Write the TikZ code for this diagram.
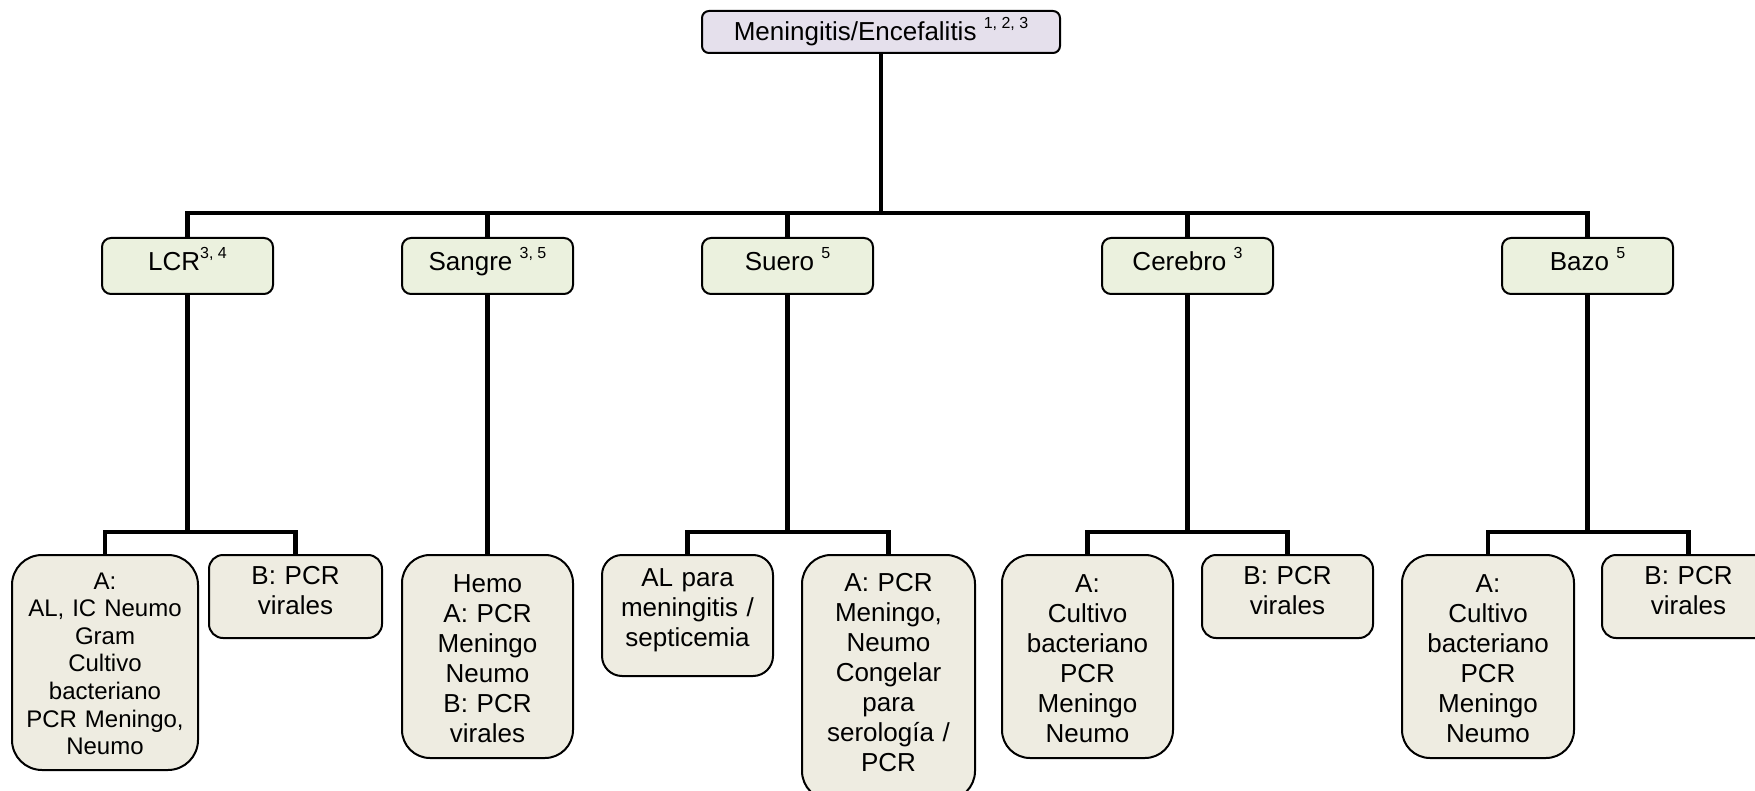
\documentclass[tikz,border=0pt]{standalone}
\usepackage{fontspec}
\setmainfont{Liberation Sans}
\definecolor{topfill}{RGB}{229,224,236}
\definecolor{midfill}{RGB}{235,241,222}
\definecolor{leaffill}{RGB}{238,236,225}
% raised, smaller reference numbers
\newcommand{\supnum}[1]{\raisebox{12pt}{\fontsize{16}{16}\selectfont #1}}
\tikzset{
  conn/.style={line width=4.2pt, draw=black},
  boxframe/.style={draw=black, line width=2pt, inner sep=0pt},
  topbox/.style={boxframe, fill=topfill, rounded corners=7pt, minimum width=358pt, minimum height=42pt},
  midbox/.style={boxframe, fill=midfill, rounded corners=9pt, minimum width=171pt, minimum height=56pt},
  leafbox/.style={boxframe, fill=leaffill},
  bigtxt/.style={inner sep=0pt, anchor=base, font=\fontsize{26}{30}\selectfont},
  leaftxt/.style={inner sep=0pt, anchor=base, text width=168pt, align=center, font=\fontsize{26}{30}\selectfont},
  smalltxt/.style={inner sep=0pt, anchor=base, text width=180pt, align=center, font=\fontsize{24}{27.6}\selectfont},
}
\begin{document}
\begin{tikzpicture}[x=1pt,y=-1pt]
\useasboundingbox (0,0) rectangle (1755,791);
\clip (0,0) rectangle (1755,791);

% root
\node[topbox] (root) at (881,32) {};
\node[bigtxt] (root-t) at (881,40.5) {Meningitis/Encefalitis \supnum{1, 2, 3}};

% sample types
\node[midbox] (lcr) at (187.5,266) {};
\node[midbox] (sangre) at (487.5,266) {};
\node[midbox] (suero) at (787.5,266) {};
\node[midbox] (cerebro) at (1187.5,266) {};
\node[midbox] (bazo) at (1587.5,266) {};
\node[bigtxt] (lcr-t) at (187.5,271) {LCR\supnum{3, 4}};
\node[bigtxt] (sangre-t) at (487.5,271) {Sangre \supnum{3, 5}};
\node[bigtxt] (suero-t) at (787.5,271) {Suero \supnum{5}};
\node[bigtxt] (cerebro-t) at (1187.5,271) {Cerebro \supnum{3}};
\node[bigtxt] (bazo-t) at (1587.5,271) {Bazo \supnum{5}};

% tests
\node[leafbox, rounded corners=30pt, minimum width=186pt, minimum height=215pt] (lcrA) at (105,662.5) {};
\node[smalltxt] (lcrA-t) at (105,589) {A:\\AL, IC Neumo\\Gram\\Cultivo\\bacteriano\\PCR Meningo,\\Neumo};
\node[leafbox, rounded corners=14pt, minimum width=173pt, minimum height=83pt] (lcrB) at (295.5,596.5) {};
\node[leaftxt] (lcrB-t) at (295.5,584) {B: PCR\\virales};

\node[leafbox, rounded corners=28pt, minimum width=171pt, minimum height=203pt] (sanA) at (487.5,656.5) {};
\node[leaftxt] (sanA-t) at (487.5,592) {Hemo\\A: PCR\\Meningo\\Neumo\\B: PCR\\virales};

\node[leafbox, rounded corners=20pt, minimum width=171pt, minimum height=121pt] (sueL) at (687.5,615.5) {};
\node[leaftxt] (sueL-t) at (687.5,586) {AL para\\meningitis /\\septicemia};
\node[leafbox, rounded corners=29pt, minimum width=173pt, minimum height=245pt] (sueA) at (888.5,677.5) {};
\node[leaftxt] (sueA-t) at (888.5,591) {A: PCR\\Meningo,\\Neumo\\Congelar\\para\\serología /\\PCR};

\node[leafbox, rounded corners=28pt, minimum width=171pt, minimum height=203pt] (cerA) at (1087.5,656.5) {};
\node[leaftxt] (cerA-t) at (1087.5,592) {A:\\Cultivo\\bacteriano\\PCR\\Meningo\\Neumo};
\node[leafbox, rounded corners=14pt, minimum width=171pt, minimum height=83pt] (cerB) at (1287.5,596.5) {};
\node[leaftxt] (cerB-t) at (1287.5,584) {B: PCR\\virales};

\node[leafbox, rounded corners=28pt, minimum width=172pt, minimum height=203pt] (bazA) at (1488,656.5) {};
\node[leaftxt] (bazA-t) at (1488,592) {A:\\Cultivo\\bacteriano\\PCR\\Meningo\\Neumo};
\node[leafbox, rounded corners=14pt, minimum width=173pt, minimum height=83pt] (bazB) at (1688.5,596.5) {};
\node[leaftxt] (bazB-t) at (1688.5,584) {B: PCR\\virales};

% bus levels
\coordinate (busA) at (0,213);
\coordinate (busB) at (0,532);

% root to sample types
\foreach \c in {lcr,sangre,suero,cerebro,bazo}
  \draw[conn] (root.south) -- (root.south |- busA) -| (\c.north);

% sample types to tests
\foreach \p/\c in {lcr/lcrA,lcr/lcrB,suero/sueL,suero/sueA,cerebro/cerA,cerebro/cerB,bazo/bazA,bazo/bazB}
  \draw[conn] (\p.south) -- (\p.south |- busB) -| (\c.north);
\draw[conn] (sangre.south) -- (sanA.north);
\end{tikzpicture}
\end{document}
